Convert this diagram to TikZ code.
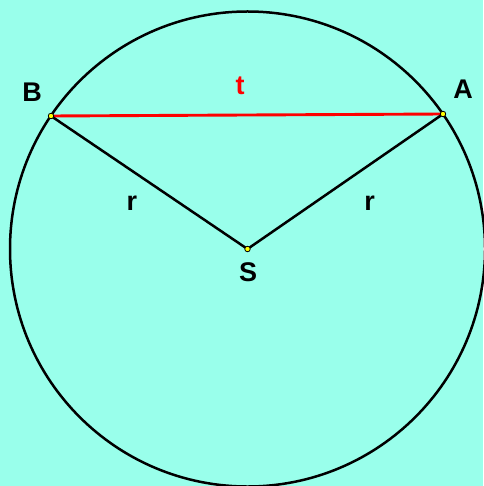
\documentclass[tikz,border=0pt]{standalone}
\usepackage{fontspec}
\setmainfont{Liberation Sans}
\definecolor{bg}{RGB}{153,255,235}
\definecolor{ptyellow}{RGB}{255,255,0}
\begin{document}
\begin{tikzpicture}[x=1pt,y=-1pt,
  lbl/.style={inner sep=0pt, font=\fontsize{27}{27}\selectfont\bfseries},
  pt/.style={circle, fill=ptyellow, draw=black, line width=0.8pt, minimum size=5.5pt, inner sep=0pt},
  seg/.style={line width=2.5pt, black},
  chord/.style={line width=2.9pt, red}]
\fill[bg] (0,0) rectangle (483,486);
\useasboundingbox (0,0) rectangle (483,486);
\coordinate (S0) at (247.5,249);
\draw[line width=2.5pt] (S0) circle[radius=237.5];
\coordinate (Bc) at (51,116);
\coordinate (Ac) at (443,114);
\draw[chord] (Bc) -- (Ac);
\draw[seg] (Bc) -- (S0) -- (Ac);
\node[pt] (B) at (Bc) {};
\node[pt] (A) at (Ac) {};
\node[pt] (S) at (S0) {};
\node[lbl] (lB) at (32,92.5) {B};
\node[lbl] (lA) at (463,89) {A};
\node[lbl, red] (lt) at (240,86) {t};
\node[lbl] (lr1) at (132,203) {r};
\node[lbl] (lr2) at (369.5,203) {r};
\node[lbl] (lS) at (248,272) {S};
\end{tikzpicture}
\end{document}
